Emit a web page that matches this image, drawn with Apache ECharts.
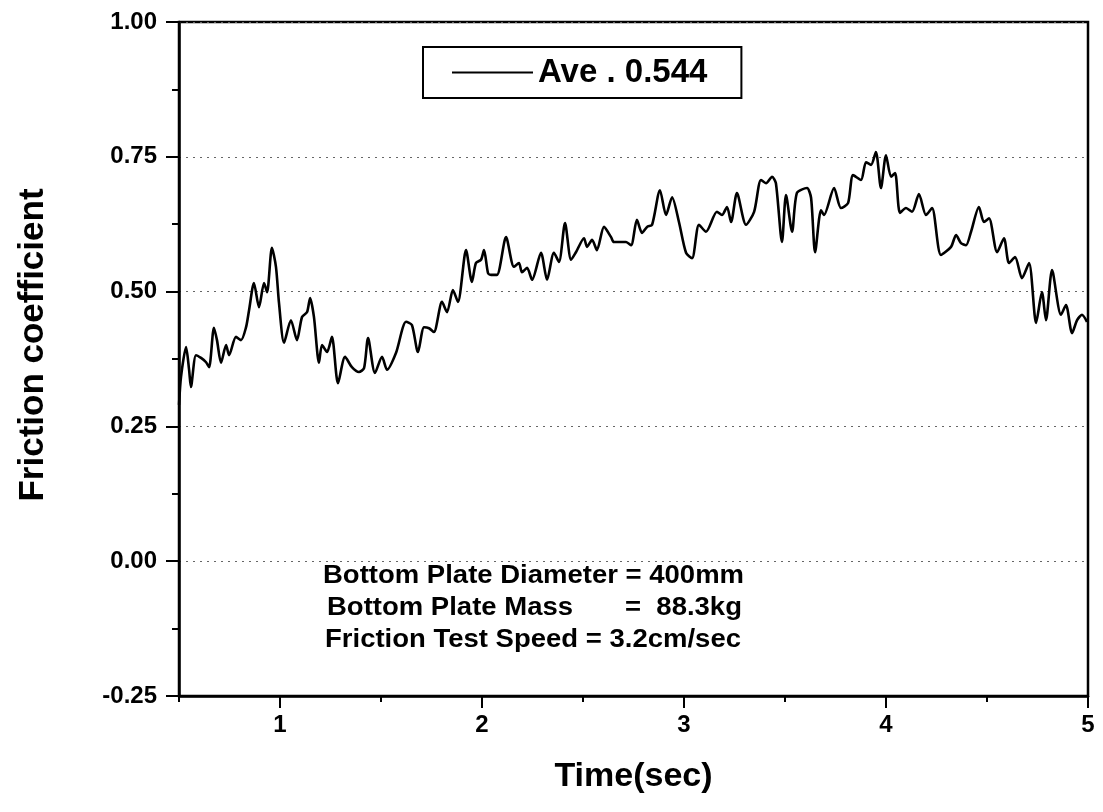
<!DOCTYPE html>
<html>
<head>
<meta charset="utf-8">
<script src="https://cdn.jsdelivr.net/npm/echarts@6/dist/echarts.min.js"></script>
<style>
    html, body { margin: 0; padding: 0; background: #fff; }
    #friction { width: 1103px; height: 812px; }
</style>
</head>
<body>
<div id="friction"></div>
<script>
// time axis (sec) and friction coefficient
var timeSec = [0.500, 0.510, 0.535, 0.550, 0.559, 0.584, 0.609, 0.634, 0.649, 0.673,
    0.688, 0.708, 0.733, 0.748, 0.782, 0.807, 0.832, 0.847, 0.871, 0.896,
    0.921, 0.936, 0.960, 0.980, 0.995, 1.020, 1.054, 1.084, 1.109, 1.134,
    1.149, 1.168, 1.193, 1.208, 1.233, 1.257, 1.287, 1.322, 1.356, 1.391,
    1.416, 1.436, 1.470, 1.505, 1.530, 1.574, 1.624, 1.653, 1.683, 1.713,
    1.738, 1.762, 1.802, 1.827, 1.856, 1.881, 1.921, 1.950, 1.970, 1.995,
    2.010, 2.030, 2.045, 2.074, 2.119, 2.158, 2.183, 2.198, 2.223, 2.248,
    2.292, 2.322, 2.356, 2.381, 2.411, 2.441, 2.465, 2.505, 2.520, 2.545,
    2.569, 2.604, 2.639, 2.653, 2.713, 2.738, 2.767, 2.792, 2.817, 2.842,
    2.881, 2.911, 2.941, 2.975, 3.010, 3.040, 3.074, 3.109, 3.163, 3.188,
    3.213, 3.233, 3.262, 3.307, 3.347, 3.381, 3.406, 3.436, 3.455, 3.485,
    3.505, 3.535, 3.559, 3.609, 3.629, 3.649, 3.678, 3.693, 3.743, 3.777,
    3.812, 3.837, 3.876, 3.901, 3.926, 3.950, 3.975, 4.000, 4.025, 4.045,
    4.069, 4.099, 4.129, 4.163, 4.198, 4.228, 4.272, 4.322, 4.347, 4.371,
    4.396, 4.421, 4.460, 4.485, 4.510, 4.550, 4.584, 4.609, 4.639, 4.673,
    4.708, 4.743, 4.772, 4.792, 4.822, 4.866, 4.891, 4.921, 4.946, 4.970,
    4.995];
var friction = [0.290, 0.342, 0.397, 0.355, 0.323, 0.382, 0.377, 0.369, 0.360, 0.433,
    0.410, 0.368, 0.401, 0.382, 0.416, 0.410, 0.434, 0.466, 0.516, 0.471,
    0.516, 0.499, 0.581, 0.546, 0.479, 0.405, 0.447, 0.410, 0.453, 0.462,
    0.488, 0.453, 0.368, 0.401, 0.388, 0.416, 0.330, 0.379, 0.360, 0.351,
    0.358, 0.414, 0.349, 0.379, 0.355, 0.386, 0.444, 0.438, 0.388, 0.434,
    0.432, 0.425, 0.481, 0.462, 0.503, 0.481, 0.577, 0.518, 0.553, 0.559,
    0.577, 0.534, 0.531, 0.531, 0.601, 0.546, 0.553, 0.536, 0.544, 0.522,
    0.572, 0.522, 0.572, 0.555, 0.627, 0.559, 0.573, 0.599, 0.583, 0.596,
    0.577, 0.620, 0.601, 0.592, 0.592, 0.586, 0.633, 0.609, 0.620, 0.624,
    0.688, 0.642, 0.675, 0.629, 0.572, 0.562, 0.624, 0.611, 0.648, 0.642,
    0.657, 0.629, 0.683, 0.624, 0.648, 0.707, 0.701, 0.713, 0.701, 0.592,
    0.679, 0.611, 0.683, 0.692, 0.674, 0.573, 0.651, 0.642, 0.692, 0.655,
    0.664, 0.716, 0.707, 0.740, 0.735, 0.759, 0.692, 0.753, 0.713, 0.720,
    0.646, 0.655, 0.648, 0.681, 0.642, 0.655, 0.568, 0.583, 0.605, 0.590,
    0.586, 0.611, 0.657, 0.629, 0.636, 0.573, 0.599, 0.553, 0.564, 0.525,
    0.553, 0.442, 0.499, 0.447, 0.540, 0.457, 0.475, 0.423, 0.447, 0.457,
    0.444];

var xMajorTicks = [1, 2, 3, 4, 5];
var xMinorTicks = [0.5, 1.5, 2.5, 3.5, 4.5];
var legendName = 'Ave . 0.544';
var noteLines = ['Bottom Plate Diameter = 400mm', 'Bottom Plate Mass', '=  88.3kg', 'Friction Test Speed = 3.2cm/sec'];

var seriesData = [];
for (var i = 0; i < timeSec.length; i++) {
    seriesData.push([timeSec[i], friction[i]]);
}

var myChart = echarts.init(document.getElementById('friction'));

var noteFont = 'bold 25px Arial';
var option = {
    animation: false,
    backgroundColor: '#fff',
    grid: {
        left: 179, right: 15, top: 22, bottom: 116,
        show: true,
        borderColor: '#000',
        borderWidth: 2.5
    },
    legend: {
        left: 423,
        top: 47,
        data: [{ name: legendName, icon: 'rect' }],
        itemWidth: 81,
        itemHeight: 2,
        padding: [9, 34, 9, 29],
        borderColor: '#000',
        borderWidth: 2,
        textStyle: { fontFamily: 'Arial', fontWeight: 'bold', fontSize: 33, color: '#000' }
    },
    xAxis: [{
        type: 'value',
        min: 0.5,
        max: 5,
        name: 'Time(sec)',
        nameLocation: 'middle',
        nameGap: 64,
        nameTextStyle: { fontFamily: 'Arial', fontWeight: 'bold', fontSize: 34, color: '#000' },
        axisLine: { onZero: false, lineStyle: { color: '#000', width: 2.5 } },
        axisTick: { customValues: xMajorTicks, length: 12, lineStyle: { color: '#000', width: 2 } },
        axisLabel: {
            customValues: xMajorTicks,
            margin: 17,
            fontFamily: 'Arial', fontWeight: 'bold', fontSize: 24, color: '#000'
        },
        splitLine: { show: false }
    }, {
        type: 'value',
        min: 0.5,
        max: 5,
        position: 'bottom',
        axisLine: { show: false, onZero: false },
        axisTick: { customValues: xMinorTicks, length: 6, lineStyle: { color: '#000', width: 2 } },
        axisLabel: { show: false },
        splitLine: { show: false }
    }],
    yAxis: {
        type: 'value',
        min: -0.25,
        max: 1,
        interval: 0.25,
        name: 'Friction coefficient',
        nameLocation: 'middle',
        nameRotate: 90,
        nameGap: 128,
        nameTextStyle: { fontFamily: 'Arial', fontWeight: 'bold', fontSize: 35, color: '#000', padding: [0, 0, 0, 28] },
        axisLine: { show: true, onZero: false, lineStyle: { color: '#000', width: 2.5 } },
        axisTick: { length: 13, lineStyle: { color: '#000', width: 2 } },
        minorTick: { show: true, splitNumber: 2, length: 7, lineStyle: { color: '#000', width: 2 } },
        axisLabel: {
            margin: 22,
            fontFamily: 'Arial', fontWeight: 'bold', fontSize: 24, color: '#000',
            formatter: function (v) { return v.toFixed(2); }
        },
        splitLine: { show: true, lineStyle: { color: '#666', type: [2, 5], width: 1 } }
    },
    series: [{
        name: legendName,
        type: 'line',
        xAxisIndex: 0,
        data: seriesData,
        showSymbol: false,
        smooth: 0.25,
        color: '#000',
        lineStyle: { color: '#000', width: 2.6 }
    }],
    graphic: [
        { type: 'text', x: 323, y: 576, scaleX: 1.1, style: { text: noteLines[0], font: noteFont, fill: '#000', textVerticalAlign: 'middle' } },
        { type: 'text', x: 327, y: 608, scaleX: 1.1, style: { text: noteLines[1], font: noteFont, fill: '#000', textVerticalAlign: 'middle' } },
        { type: 'text', x: 625, y: 608, scaleX: 1.1, style: { text: noteLines[2], font: noteFont, fill: '#000', textVerticalAlign: 'middle' } },
        { type: 'text', x: 325, y: 640, scaleX: 1.1, style: { text: noteLines[3], font: noteFont, fill: '#000', textVerticalAlign: 'middle' } }
    ]
};

myChart.setOption(option, true);
</script>
</body>
</html>
